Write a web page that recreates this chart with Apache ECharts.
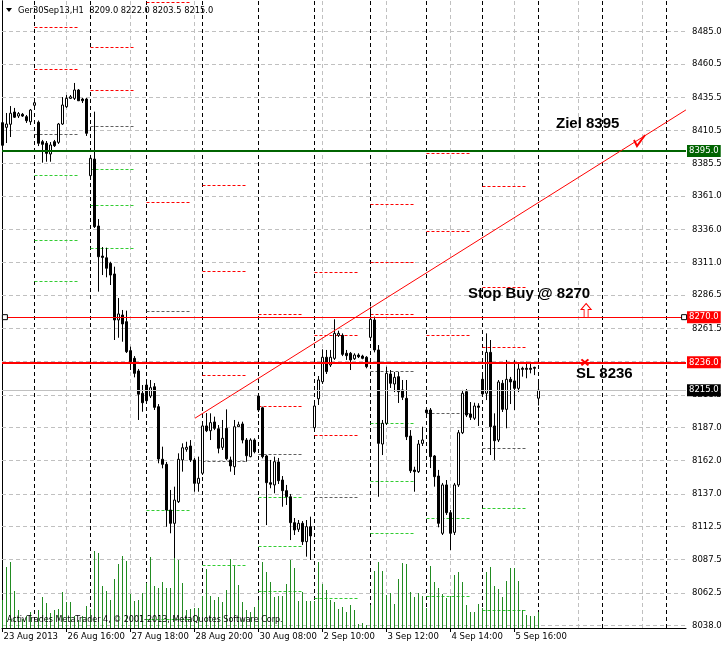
<!DOCTYPE html>
<html><head><meta charset="utf-8">
<script src="https://cdn.jsdelivr.net/npm/echarts@6/dist/echarts.min.js"></script>
<style>html,body{margin:0;padding:0;background:#fff}#c{width:724px;height:646px}</style>
</head><body><div id="c"></div><script>
// ---------------- DATA ----------------
const symbolTitle = 'Ger30Sep13,H1';
const xTickIndex = [0,16,32,48,64,80,96,112,128];
const xTickLabels = ['23 Aug 2013','26 Aug 16:00','27 Aug 18:00','28 Aug 20:00','30 Aug 08:00','2 Sep 10:00','3 Sep 12:00','4 Sep 14:00','5 Sep 16:00'];
const vGridIndex = [16,32,48,64,80,96,112,128,144,160];
const separatorIndex = [8,22,36,50,64,78,92,106,120,134,150,166];
const yTicks = [8485.0,8460.5,8435.5,8410.5,8385.5,8361.0,8336.0,8311.0,8286.5,8261.5,8236.5,8211.5,8187.0,8162.0,8137.0,8112.5,8087.5,8062.5,8038.0];

const opens = [8416.4,8412.9,8415.2,8424.4,8421.4,8422.7,8420.9,8417.1,8429.5,8416.7,
8402.1,8400.9,8392.8,8402.1,8401.6,8415.4,8428.4,8434.7,8434.7,8441.0,
8434.2,8434.2,8376.5,8389.0,8338.6,8316.0,8314.7,8310.5,8302.5,8267.9,
8271.6,8266.6,8244.8,8239.0,8229.5,8212.7,8218.9,8210.6,8217.6,8202.6,
8163.0,8159.2,8124.8,8114.8,8131.1,8162.5,8170.5,8173.0,8162.5,8144.9,
8152.5,8188.1,8184.5,8191.1,8186.0,8172.0,8186.3,8162.5,8157.4,8187.5,
8189.6,8177.5,8165.0,8177.5,8210.6,8201.8,8165.5,8145.4,8143.7,8161.0,
8147.4,8139.4,8134.8,8115.3,8110.3,8114.8,8101.0,8112.3,8186.8,8208.6,
8221.4,8239.8,8234.0,8239.0,8256.3,8256.3,8242.8,8242.8,8238.7,8241.5,
8240.7,8239.8,8254.8,8267.9,8245.3,8174.5,8190.1,8227.2,8219.7,8225.2,
8215.2,8208.9,8180.5,8154.9,8153.7,8175.0,8200.1,8200.1,8165.5,8150.4,
8107.3,8143.7,8122.8,8108.0,8143.7,8183.0,8213.9,8197.1,8193.9,8203.1,
8223.2,8212.7,8243.5,8188.1,8177.5,8220.2,8200.6,8223.2,8222.0,8216.4,
8231.5,8231.5,8231.5,8232.2,8209.0];
const closes = [8399.4,8415.4,8423.5,8420.5,8423.2,8421.4,8417.9,8425.9,8431.4,8400.9,
8400.1,8393.3,8399.6,8399.1,8415.4,8429.7,8434.7,8435.9,8441.0,8432.9,
8432.9,8408.4,8389.6,8338.1,8315.5,8315.0,8306.8,8301.7,8267.9,8272.4,
8264.9,8244.0,8236.5,8227.7,8212.0,8205.6,8207.1,8216.9,8202.1,8163.2,
8159.2,8124.8,8114.8,8132.3,8163.0,8171.7,8172.0,8162.5,8144.9,8148.7,
8188.1,8184.5,8190.6,8186.3,8171.3,8178.8,8163.4,8158.0,8187.5,8189.0,
8177.5,8165.7,8177.5,8168.7,8200.1,8165.0,8145.4,8144.2,8161.2,8146.9,
8139.4,8134.8,8115.3,8109.8,8114.8,8101.0,8112.3,8105.3,8203.1,8222.7,
8239.8,8229.0,8239.8,8257.8,8257.8,8242.0,8241.0,8237.8,8241.5,8240.2,
8239.0,8232.7,8268.4,8245.3,8175.0,8190.1,8227.7,8220.2,8224.7,8213.9,
8209.7,8180.0,8154.4,8153.7,8174.5,8177.5,8198.1,8165.0,8149.9,8114.8,
8143.7,8122.8,8107.3,8143.7,8183.0,8212.7,8196.3,8194.6,8203.1,8202.1,
8212.2,8243.5,8187.5,8177.0,8221.2,8200.6,8223.2,8221.2,8216.4,8231.0,
8230.7,8230.7,8230.7,8231.5,8215.0];
const highs = [8417.7,8423.7,8428.9,8427.5,8424.4,8423.7,8422.2,8426.7,8435.0,8418.0,
8403.4,8402.6,8401.8,8403.4,8416.2,8435.7,8437.2,8437.2,8446.3,8441.7,
8435.0,8435.0,8392.1,8424.7,8343.9,8322.8,8322.3,8311.7,8308.0,8284.4,
8275.4,8274.9,8247.8,8240.7,8231.0,8218.9,8222.7,8222.7,8220.4,8204.6,
8172.5,8161.0,8139.9,8142.4,8167.5,8175.0,8176.2,8177.5,8164.0,8165.0,
8189.6,8197.8,8197.6,8195.1,8188.8,8192.6,8200.6,8165.0,8192.6,8191.3,
8191.3,8179.0,8178.8,8178.8,8212.2,8202.6,8166.2,8162.5,8165.0,8164.0,
8150.4,8143.7,8136.9,8118.8,8117.3,8116.5,8117.3,8119.8,8204.6,8225.7,
8245.8,8245.3,8245.3,8268.4,8259.8,8257.8,8245.3,8243.8,8242.8,8242.8,
8241.7,8240.7,8277.9,8270.4,8249.0,8192.6,8232.7,8230.2,8228.7,8228.7,
8222.7,8222.7,8185.0,8157.4,8177.5,8187.5,8201.6,8201.6,8166.2,8155.0,
8145.2,8147.4,8124.8,8145.2,8185.0,8215.2,8215.9,8206.1,8205.6,8205.2,
8226.4,8257.8,8252.8,8197.6,8222.7,8222.7,8237.8,8225.0,8237.8,8235.7,
8232.7,8236.5,8235.3,8232.7,8222.0];
const lows = [8398.1,8401.1,8405.6,8419.9,8419.9,8420.7,8416.2,8414.7,8428.9,8398.8,
8386.3,8387.0,8387.0,8398.1,8400.4,8414.7,8427.5,8434.2,8433.5,8432.7,
8431.2,8406.4,8374.7,8337.1,8289.2,8301.7,8300.0,8294.2,8252.8,8254.5,
8251.5,8243.0,8230.2,8224.7,8192.6,8198.8,8205.4,8209.1,8200.1,8160.0,
8156.2,8112.2,8107.3,8088.7,8130.1,8153.7,8168.7,8161.0,8138.6,8138.6,
8151.2,8183.5,8177.5,8185.0,8167.5,8170.0,8162.5,8153.7,8151.2,8187.3,
8175.0,8161.2,8164.5,8167.5,8198.6,8163.7,8113.5,8141.2,8137.4,8144.4,
8127.3,8128.6,8102.2,8106.0,8108.3,8098.5,8089.7,8087.2,8185.0,8203.9,
8219.7,8227.2,8232.5,8237.8,8255.1,8240.7,8237.8,8230.2,8237.8,8239.2,
8238.3,8231.5,8252.8,8243.5,8134.8,8166.2,8188.8,8216.7,8213.6,8205.4,
8207.6,8177.5,8152.7,8138.6,8152.7,8173.0,8197.1,8156.4,8142.4,8111.8,
8106.0,8121.1,8094.7,8106.0,8142.2,8182.0,8194.8,8192.6,8192.6,8188.1,
8210.6,8207.6,8166.2,8162.5,8176.0,8198.6,8186.3,8204.6,8200.1,8213.6,
8225.2,8224.0,8227.7,8226.4,8203.5];
const volumes = [566,1220,1326,740,366,180,234,326,166,366,
620,500,300,354,380,726,514,514,234,166,
246,434,380,1540,1500,846,740,566,980,1286,
1446,1340,686,546,566,700,900,1420,834,794,
914,794,794,1566,1354,900,366,380,400,406,
634,1180,646,566,620,514,754,1380,1246,866,
514,354,326,420,554,1326,1126,926,620,646,
634,874,1366,1194,540,714,540,540,540,1326,
886,766,566,526,380,420,326,460,354,86,
100,60,466,1146,1326,1146,666,706,486,980,
1306,1286,726,620,706,646,406,1246,926,806,
686,606,646,1066,1126,926,466,314,326,486,
406,1126,1226,846,786,626,946,1206,1206,946,
366,266,246,246,326];
const volumeAxisMax = 12540;

// daily pivot segments: first bar of the day, level, kind (R = resistance, P = pivot, S = support)
const pivotStart = [-6,-6,-6,-6,-6,
  8,8,8,8,8,8,
  22,22,22,22,22,22,
  36,36,36,36,36,
  50,50,50,50,50,
  64,64,64,64,64,64,64,
  78,78,78,78,78,
  92,92,92,92,92,92,92,
  106,106,106,106,106,106,
  120,120,120,120,120,120];
const pivotLevel = [8481.6,8370.8,8311.5,8192.6,8138.4,
  8488.2,8456.6,8407.9,8377.0,8328.1,8297.4,
  8473.1,8440.8,8413.4,8381.3,8354.2,8321.8,
  8506.7,8356.7,8274.5,8124.8,8042.6,
  8369.5,8304.3,8226.5,8161.2,8083.4,
  8272.1,8236.0,8203.1,8167.0,8134.1,8097.7,8063.6,
  8303.7,8256.5,8181.0,8134.4,8058.3,
  8355.2,8311.3,8271.9,8229.5,8190.1,8146.1,8107.3,
  8393.3,8334.8,8256.5,8197.6,8118.6,8059.8,
  8368.7,8292.5,8247.3,8171.3,8126.1,8049.5];
const pivotKind  = ['R','P','S','S','S',
  'R','R','P','S','S','S',
  'R','R','P','S','S','S',
  'R','R','P','S','S',
  'R','R','R','P','S',
  'R','R','R','P','S','S','S',
  'R','R','R','P','S',
  'R','R','R','P','S','S','S',
  'R','R','R','P','S','S',
  'R','R','R','P','S','S'];
const pivotBars = 11.25;

const targetLevel = 8395.0;
const stopBuyLevel = 8270.0;
const stopLossLevel = 8236.0;
const bidLevel = 8215.0;
const trendFrom = [48.1, 8193.9];
const trendTo = [170.85, 8426.0];

// ---------------- CHART ----------------
const FONT = 'DejaVu Sans';
const chart = echarts.init(document.getElementById('c'), null, {renderer:'canvas'});
const pivotColor = {R:'#ff0000', P:'#606060', S:'#32cd32'};
const labelFor = {};
xTickIndex.forEach((v,k)=>labelFor[v]=xTickLabels[k]);

function hLine(v, color, width, bg){
  return {yAxis:v, lineStyle:{color:color, width:width, type:'solid'},
    label:{show:true, position:'end', distance:1, formatter: v.toFixed(1), backgroundColor:bg, color:'#fff',
      padding:[2,2,1,2], fontSize:8.5, fontFamily:FONT}};
}

const n = opens.length;
const option = {
  animation:false,
  textStyle:{fontFamily:FONT},
  grid:{left:2, right:38, top:1, bottom:18, show:false, containLabel:false, outerBoundsMode:'none'},
  xAxis:[{type:'value', min:-0.125, max:170.875,
    axisLine:{show:true, lineStyle:{color:'#000', width:1}},
    axisTick:{show:true, customValues:xTickIndex, length:4, lineStyle:{color:'#000'}},
    axisLabel:{show:true, customValues:xTickIndex, formatter:(v)=>labelFor[Math.round(v)]||'', align:'left',
      color:'#000', fontSize:8.5, fontFamily:FONT, margin:4, padding:[0,0,0,1]},
    splitLine:{show:false}}],
  yAxis:[{type:'value', position:'right', min:8036, max:8508,
    axisLine:{show:true, lineStyle:{color:'#000', width:1}},
    axisTick:{show:true, customValues:yTicks, length:3, lineStyle:{color:'#000'}},
    axisLabel:{show:true, customValues:yTicks, formatter:(v)=>v.toFixed(1), color:'#000', fontSize:8.5, fontFamily:FONT, margin:6},
    splitLine:{show:false}},
    {type:'value', position:'left', min:0, max:volumeAxisMax,
    axisLine:{show:true, lineStyle:{color:'#000', width:1}}, axisTick:{show:false}, axisLabel:{show:false}, splitLine:{show:false}}],
  series:[
    // grid + period separators
    {type:'line', data:[], silent:true,
      markLine:{silent:true, z:1, symbol:['none','none'], label:{show:false}, animation:false,
        data: yTicks.map(v=>({yAxis:v, lineStyle:{color:'#c0c0c0', width:1, type:[4,3]}}))
          .concat(vGridIndex.map(i=>({xAxis:i, lineStyle:{color:'#c0c0c0', width:1, type:[4,3]}})))
          .concat(separatorIndex.map(i=>({xAxis:i, lineStyle:{color:'#000', width:1, type:[4,3]}})))}},
    // pivots
    {type:'line', data:[], silent:true,
      markLine:{silent:true, z:2, symbol:['none','none'], label:{show:false}, animation:false,
        data: pivotStart.map((s,k)=>[{coord:[s, pivotLevel[k]], lineStyle:{color:pivotColor[pivotKind[k]], width:1, type:[3,2]}},{coord:[s+pivotBars, pivotLevel[k]]}])}},
    // volumes (1px columns)
    {type:'custom', xAxisIndex:0, yAxisIndex:1, silent:true, z:2, animation:false, progressive:0,
      data: volumes.map((v,i)=>[i,v]),
      renderItem:(params, api)=>{
        const top = api.coord([api.value(0), api.value(1)]);
        const base = api.coord([api.value(0), 0]);
        const cx = Math.floor(top[0]) + 0.5;
        return {type:'line', shape:{x1:cx, y1:Math.round(top[1]), x2:cx, y2:Math.round(base[1])},
          style:{stroke:'#228b22', lineWidth:1, fill:null}};
      }},
    // candles
    {type:'candlestick', xAxisIndex:0, yAxisIndex:0, silent:true, z:3, barWidth:2, progressive:0,
      encode:{x:0, y:[1,2,3,4]},
      itemStyle:{color:'#ffffff', color0:'#000000', borderColor:'#000000', borderColor0:'#000000', borderColorDoji:'#000', borderWidth:1},
      data: opens.map((o,i)=>[i,o,closes[i],lows[i],highs[i]])},
    // objects
    {type:'line', data:[], silent:true,
      markLine:{silent:true, z:6, symbol:['none','none'], animation:false, label:{show:false},
        data:[
          hLine(bidLevel, '#c0c0c0', 1, '#000000'),
          hLine(stopBuyLevel, '#ff0000', 1, '#ff0000'),
          hLine(stopLossLevel, '#ff0000', 2, '#ff0000'),
          hLine(targetLevel, '#006400', 2, '#006400'),
          [{coord:trendFrom, lineStyle:{color:'#ff0000', width:1, type:'solid'}},{coord:trendTo}]
        ]},
      markPoint:{silent:true, z:7, animation:false, label:{show:false},
        data:[
          {coord:[0.6, stopBuyLevel], symbol:'rect', symbolSize:5, itemStyle:{color:'#fff', borderColor:'#000', borderWidth:1}},
          {coord:[170.4, stopBuyLevel], symbol:'rect', symbolSize:5, itemStyle:{color:'#fff', borderColor:'#000', borderWidth:1}},
          {coord:[145.6, stopLossLevel], symbol:'path://M0,0L8,8M8,0L0,8', symbolSize:[7,6], itemStyle:{color:'none', borderColor:'#ff0000', borderWidth:2}},
          {coord:[145.9, 8275.0], symbol:'path://M5,0L10,6L7,6L7,14L3,14L3,6L0,6Z', symbolSize:[10,14], itemStyle:{color:'#fff', borderColor:'#ff0000', borderWidth:1}},
          {coord:[159.25, 8403.0], symbol:'path://M0,5L3,11L11,0', symbolSize:[11,11], itemStyle:{color:'none', borderColor:'#ff0000', borderWidth:2}}
        ]}}
  ],
  graphic:[
    {type:'polygon', shape:{points:[[6,8],[12,8],[9,12]]}, style:{fill:'#000'}, z:10},
    {type:'text', x:18, y:10.5, style:{text: symbolTitle + '  ' + [opens[n-1],highs[n-1],lows[n-1],closes[n-1]].map(v=>v.toFixed(1)).join(' '), font:'8.3px "DejaVu Sans"', fill:'#000', textVerticalAlign:'middle'}, z:10},
    {type:'text', x:7, y:620, style:{text:'ActivTrades MetaTrader 4, \u00a9 2001-2013, MetaQuotes Software Corp.', font:'8px "DejaVu Sans"', fill:'#000', textVerticalAlign:'middle'}, z:10},
    {type:'text', x:556, y:124, style:{text:'Ziel 8395', font:'bold 15px "Liberation Sans"', fill:'#000', textVerticalAlign:'middle'}, z:10},
    {type:'text', x:468, y:294, style:{text:'Stop Buy @ 8270', font:'bold 15px "Liberation Sans"', fill:'#000', textVerticalAlign:'middle'}, z:10},
    {type:'text', x:576, y:374, style:{text:'SL 8236', font:'bold 15px "Liberation Sans"', fill:'#000', textVerticalAlign:'middle'}, z:10}
  ]
};
chart.setOption(option);
</script></body></html>
